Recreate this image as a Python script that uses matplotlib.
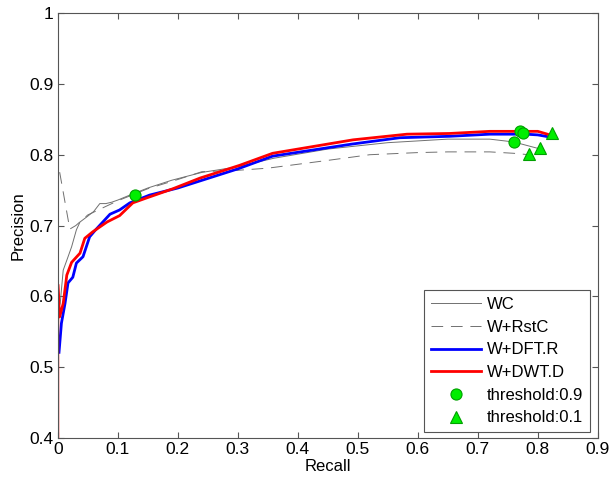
import matplotlib.pyplot as plt

plt.rcParams['font.family'] = ['Liberation Sans', 'DejaVu Sans']

# WC (thin gray solid)
wc_x = [0, 0.002, 0.004, 0.006, 0.009, 0.015, 0.023, 0.031, 0.037, 0.048, 0.06, 0.07,
        0.08, 0.09, 0.1, 0.12, 0.15, 0.19, 0.24, 0.3, 0.36, 0.45, 0.55, 0.65, 0.72,
        0.76, 0.80]
wc_y = [0.62, 0.585, 0.59, 0.609, 0.637, 0.651, 0.67, 0.694, 0.705, 0.712, 0.72, 0.731,
        0.731, 0.733, 0.736, 0.743, 0.753, 0.764, 0.775, 0.783, 0.795, 0.808, 0.817,
        0.822, 0.822, 0.818, 0.809]

# W+RstC (gray dashed)
rst_x = [0, 0, 0.02, 0.03, 0.05, 0.1, 0.15, 0.2, 0.24, 0.3, 0.35, 0.45, 0.52, 0.6,
         0.65, 0.72, 0.76, 0.785]
rst_y = [0.83, 0.79, 0.695, 0.70, 0.715, 0.735, 0.752, 0.765, 0.776, 0.778, 0.781,
         0.792, 0.80, 0.803, 0.804, 0.804, 0.802, 0.80]

# W+DFT.R (blue)
dft_x = [0.002, 0.006, 0.012, 0.017, 0.025, 0.031, 0.042, 0.053, 0.062, 0.087, 0.103,
         0.12, 0.153, 0.2, 0.237, 0.3, 0.358, 0.49, 0.57, 0.653, 0.72, 0.78, 0.80, 0.82]
dft_y = [0.521, 0.562, 0.59, 0.619, 0.627, 0.647, 0.656, 0.684, 0.693, 0.716, 0.722,
         0.732, 0.743, 0.753, 0.763, 0.78, 0.798, 0.815, 0.824, 0.826, 0.829, 0.829,
         0.828, 0.825]

# W+DWT.D (red)
dwt_x = [0, 0, 0.003, 0.009, 0.015, 0.023, 0.037, 0.045, 0.058, 0.082, 0.103, 0.125,
         0.148, 0.192, 0.237, 0.303, 0.358, 0.492, 0.582, 0.653, 0.72, 0.80, 0.82]
dwt_y = [0.40, 0.617, 0.571, 0.59, 0.63, 0.648, 0.661, 0.682, 0.691, 0.705, 0.714,
         0.732, 0.739, 0.752, 0.767, 0.785, 0.802, 0.821, 0.829, 0.830, 0.833, 0.833,
         0.828]

# threshold markers
th09_x = [0.128, 0.770, 0.775, 0.760]
th09_y = [0.743, 0.833, 0.831, 0.818]
th01_x = [0.823, 0.803, 0.785]
th01_y = [0.831, 0.809, 0.801]

fig = plt.figure(figsize=(6.15, 4.84), dpi=100)
ax = fig.add_axes([0.094, 0.095, 0.878, 0.878])

ax.plot(wc_x, wc_y, color='#707070', lw=0.7, label='WC')
ax.plot(rst_x, rst_y, color='#707070', lw=0.7, dashes=(12, 8), label='W+RstC')
ax.plot(dft_x, dft_y, color='#0000ff', lw=2, label='W+DFT.R')
ax.plot(dwt_x, dwt_y, color='#ff0000', lw=2, label='W+DWT.D')
ax.plot(th09_x, th09_y, 'o', ms=8, mfc='#00ee00', mec='#00a000', mew=0.8,
        label='threshold:0.9')
ax.plot(th01_x, th01_y, '^', ms=9, mfc='#00ee00', mec='#00a000', mew=0.8,
        label='threshold:0.1')

ax.set_xlim(0, 0.9)
ax.set_ylim(0.4, 1)
ax.set_xticks([0, 0.1, 0.2, 0.3, 0.4, 0.5, 0.6, 0.7, 0.8, 0.9])
ax.set_xticklabels(['0', '0.1', '0.2', '0.3', '0.4', '0.5', '0.6', '0.7', '0.8', '0.9'])
ax.set_yticks([0.4, 0.5, 0.6, 0.7, 0.8, 0.9, 1])
ax.set_yticklabels(['0.4', '0.5', '0.6', '0.7', '0.8', '0.9', '1'])
ax.tick_params(direction='in', top=True, right=True, labelsize=12.5, length=4,
               color='#555555', pad=3)
for s in ax.spines.values():
    s.set_color('#555555')
    s.set_linewidth(0.8)
ax.set_xlabel('Recall', fontsize=12, labelpad=1)
ax.set_ylabel('Precision', fontsize=12, labelpad=3)

leg = ax.legend(loc='lower right', bbox_to_anchor=(0.985, 0.014), borderaxespad=0,
                fontsize=12, handlelength=3.0, fancybox=False, framealpha=1,
                edgecolor='#555555', labelspacing=0.46, handletextpad=0.36,
                borderpad=0.4)
leg.get_frame().set_linewidth(0.8)

fig.savefig('out.png', dpi=100)
